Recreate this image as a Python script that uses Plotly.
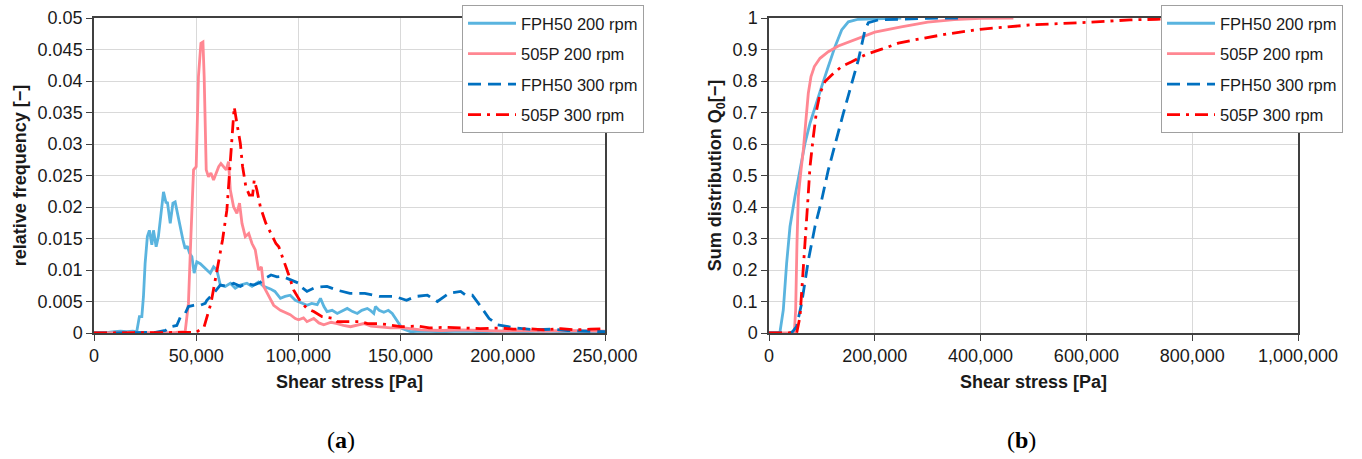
import plotly.graph_objects as go

# ---------------- data: panel (a) relative frequency ----------------
fph200_x = [0, 5000, 10000, 13000, 16000, 19000, 20900, 22200, 23400, 24200, 25000, 26100, 27100, 28300,
            29100, 30400, 31500, 32800, 34000, 35300, 35900, 37300, 38600, 39700, 40800, 42200, 43500,
            44600, 45700, 46700, 47900, 49000, 50300, 52000, 54400, 56000, 56900, 58500, 60100, 61800,
            64200, 66700, 69100, 71600, 74800, 77300, 80500, 83000, 86300, 88500, 91200, 93500, 96000,
            98500, 100100, 102000, 104200, 106500, 109200, 110800, 112500, 114000, 116500, 119000, 121500,
            123900, 126500, 128800, 131000, 133700, 135500, 136900, 137700, 139500, 141800, 144000, 145900,
            148400, 150800, 154900, 160000, 170000, 180000, 190000, 200000, 210000, 220000, 230000, 240000, 250000]
fph200_y = [0, 0, 0.0002, 0.0003, 0.0002, 0.0003, 0.0002, 0.0026, 0.0026, 0.0058, 0.011, 0.0153, 0.0163, 0.014,
            0.0163, 0.0137, 0.0153, 0.0195, 0.0224, 0.0206, 0.0208, 0.0174, 0.0206, 0.0208, 0.019, 0.0166, 0.0148,
            0.0134, 0.0138, 0.0127, 0.0121, 0.0095, 0.0113, 0.0110, 0.0103, 0.0098, 0.0095, 0.0105, 0.0100, 0.0076,
            0.0074, 0.0079, 0.0071, 0.0076, 0.0079, 0.0074, 0.0081, 0.0074, 0.0070, 0.0066, 0.0055, 0.0058, 0.0060,
            0.0052, 0.0050, 0.0048, 0.0044, 0.0047, 0.0045, 0.0055, 0.0042, 0.0034, 0.0036, 0.0031, 0.0035,
            0.0039, 0.0034, 0.0031, 0.0036, 0.0039, 0.0035, 0.0031, 0.0042, 0.0036, 0.0033, 0.0036, 0.0031,
            0.0018, 0.0007, 0.0002, 0.0003, 0.0002, 0.0003, 0.0002, 0.0003, 0.0002, 0.0003, 0.0002, 0.0002, 0.0001]

p505_200_x = [0, 10000, 20000, 30000, 40000, 44600, 46200, 47400, 48700, 50000, 51100, 52300, 53300, 53900,
              54900, 56000, 57200, 58500, 59800, 61000, 62100, 63400, 64700, 65800, 66700, 68300, 69900, 71200,
              72400, 74000, 75700, 77300, 78900, 80500, 81900, 83000, 85400, 87900, 91200, 94500, 96000, 98500,
              100100, 102500, 104200, 107500, 110000, 112400, 116000, 119000, 122000, 125500, 129000, 132000,
              135500, 138600, 142000, 145100, 151600, 160000, 170000, 180000, 190000, 200000, 210000, 220000,
              230000, 240000, 250000]
p505_200_y = [0, 0, 0, 0, 0.0001, 0.0002, 0.0047, 0.0153, 0.0259, 0.0264, 0.0407, 0.046, 0.0462, 0.0407,
              0.0259, 0.0248, 0.0254, 0.0243, 0.0254, 0.0264, 0.0269, 0.0264, 0.0259, 0.0272, 0.0227, 0.0200,
              0.0190, 0.0206, 0.0174, 0.0153, 0.0158, 0.0142, 0.0132, 0.0100, 0.0105, 0.0074, 0.0058, 0.0044,
              0.0036, 0.0031, 0.0029, 0.0023, 0.0021, 0.0024, 0.0018, 0.0023, 0.0016, 0.0013, 0.0017, 0.0015,
              0.0012, 0.0010, 0.0013, 0.0015, 0.0011, 0.0010, 0.0009, 0.0008, 0.0008, 0.0005, 0.0004, 0.0005,
              0.0004, 0.0003, 0.0004, 0.0003, 0.0004, 0.0003, 0.0003]

fph300_x = [0, 10000, 20000, 30000, 35000, 37300, 40500, 42200, 44600, 46200, 48700, 50300, 52000, 54400,
            55200, 58500, 61800, 65000, 68300, 71600, 74800, 78100, 81200, 83800, 86600, 89500, 92000, 94500,
            96900, 100200, 101000, 104200, 107500, 110500, 114000, 119000, 125200, 132500, 139900, 147200,
            152900, 157400, 163100, 168000, 173700, 179400, 181900, 185100, 189200, 193300, 197400, 202300,
            206400, 215300, 223500, 231700, 241500, 250000]
fph300_y = [0, 0, 0, 0.0001, 0.0004, 0.0010, 0.0012, 0.0025, 0.0031, 0.0042, 0.0044, 0.0045, 0.0044, 0.0047,
            0.0052, 0.0063, 0.0076, 0.0074, 0.0079, 0.0074, 0.0079, 0.0076, 0.0080, 0.0087, 0.0092, 0.0089,
            0.0090, 0.0087, 0.0084, 0.0079, 0.0074, 0.0066, 0.0071, 0.0073, 0.0074, 0.0068, 0.0063, 0.0063,
            0.0058, 0.0058, 0.0052, 0.0058, 0.0060, 0.0050, 0.0063, 0.0066, 0.0060, 0.0060, 0.0042, 0.0023,
            0.0013, 0.0010, 0.0008, 0.0005, 0.0006, 0.0004, 0.0003, 0.0002]

p505_300_x = [0, 10000, 20000, 30000, 40000, 50000, 53900, 57200, 60500, 62900, 65000, 66700, 67800, 68600,
              69900, 71600, 72700, 74300, 76000, 77600, 78400, 79700, 81400, 84100, 86600, 89000, 90400, 92800,
              95300, 97700, 101000, 104200, 107500, 111600, 117300, 119000, 124000, 130500, 133800, 138700,
              144400, 150100, 158200, 164000, 171200, 179400, 189000, 199000, 205000, 212100, 220000, 228400,
              236000, 243000, 250000]
p505_300_y = [0, 0, 0, 0, 0, 0.0001, 0.0010, 0.0047, 0.0105, 0.0148, 0.0195, 0.0275, 0.0333, 0.0359,
              0.0333, 0.0301, 0.0264, 0.0232, 0.0219, 0.0219, 0.0243, 0.0227, 0.0200, 0.0174, 0.0158, 0.0142,
              0.0137, 0.0116, 0.0092, 0.0068, 0.0050, 0.0039, 0.0034, 0.0026, 0.0023, 0.0018, 0.0018, 0.0018,
              0.0015, 0.0015, 0.0013, 0.0010, 0.0011, 0.0008, 0.0009, 0.0008, 0.0007, 0.0008, 0.0006, 0.0007,
              0.0005, 0.0007, 0.0005, 0.0006, 0.0007]

# ---------------- data: panel (b) sum distribution ----------------
cfph200_x = [0, 15000, 20800, 27000, 33300, 39700, 49100, 58600, 68000, 77500, 87000, 99500, 112100, 124800,
             137400, 150000, 168900, 200000, 250000]
cfph200_y = [0, 0, 0.004, 0.073, 0.221, 0.338, 0.433, 0.517, 0.602, 0.666, 0.719, 0.782, 0.846, 0.909,
             0.962, 0.988, 0.996, 0.998, 1.0]

cp505_200_x = [0, 39700, 47900, 50400, 52900, 55400, 60500, 64900, 69300, 74300, 79400, 85700, 96400, 112100,
               131000, 162500, 200000, 250000, 300000, 350000, 400000, 462000]
cp505_200_y = [0, 0, 0.004, 0.073, 0.285, 0.433, 0.517, 0.581, 0.666, 0.761, 0.814, 0.846, 0.872, 0.893,
               0.911, 0.932, 0.955, 0.972, 0.987, 0.995, 0.999, 1.0]

cfph300_x = [0, 40000, 45000, 52000, 61700, 74300, 86900, 99500, 112000, 124800, 140500, 156000, 168900,
             181500, 187800, 206700, 250000, 300000, 360000]
cfph300_y = [0, 0, 0.005, 0.02, 0.094, 0.23, 0.338, 0.422, 0.517, 0.602, 0.697, 0.79, 0.867, 0.962, 0.985,
             0.994, 0.997, 0.999, 1.0]

cp505_300_x = [0, 52300, 58600, 63000, 68000, 73100, 77500, 83800, 90100, 96400, 105900, 118500, 137400,
               156300, 181500, 213000, 244500, 272800, 335900, 398900, 493400, 588000, 682600, 733000, 800000]
cp505_300_y = [0, 0, 0.052, 0.147, 0.285, 0.412, 0.528, 0.623, 0.708, 0.761, 0.798, 0.819, 0.846, 0.861,
               0.883, 0.901, 0.92, 0.93, 0.949, 0.964, 0.978, 0.985, 0.994, 0.996, 1.0]

series_names = ["FPH50 200 rpm", "505P 200 rpm", "FPH50 300 rpm", "505P 300 rpm"]

freq_ticks = [0, 0.005, 0.01, 0.015, 0.02, 0.025, 0.03, 0.035, 0.04, 0.045, 0.05]
freq_ticktext = ["0", "0.005", "0.01", "0.015", "0.02", "0.025", "0.03", "0.035", "0.04", "0.045", "0.05"]
sum_ticks = [0, 0.1, 0.2, 0.3, 0.4, 0.5, 0.6, 0.7, 0.8, 0.9, 1.0]
sum_ticktext = ["0", "0.1", "0.2", "0.3", "0.4", "0.5", "0.6", "0.7", "0.8", "0.9", "1"]
xa_ticks = [0, 50000, 100000, 150000, 200000, 250000]
xb_ticks = [0, 200000, 400000, 600000, 800000, 1000000]

# ---------------- styling ----------------
W, H = 1362, 459
FONT = "Liberation Sans"
colors = ["#5AB4DF", "#FF8792", "#0070C0", "#FF0000"]
dashes = ["solid", "solid", "13px,7px", "13px,6px,3px,6px"]
LW = 2.8

fig = go.Figure()

left_data = [(fph200_x, fph200_y), (p505_200_x, p505_200_y), (fph300_x, fph300_y), (p505_300_x, p505_300_y)]
right_data = [(cfph200_x, cfph200_y), (cp505_200_x, cp505_200_y), (cfph300_x, cfph300_y), (cp505_300_x, cp505_300_y)]

for i, (xs, ys) in enumerate(left_data):
    fig.add_trace(go.Scatter(x=xs, y=ys, mode="lines", name=series_names[i], legendgroup="a%d" % i,
                             line=dict(color=colors[i], width=LW, dash=dashes[i]),
                             xaxis="x", yaxis="y", legend="legend"))
for i, (xs, ys) in enumerate(right_data):
    fig.add_trace(go.Scatter(x=xs, y=ys, mode="lines", name=series_names[i], legendgroup="b%d" % i,
                             line=dict(color=colors[i], width=LW, dash=dashes[i]),
                             xaxis="x2", yaxis="y2", legend="legend2"))

grid = "#D9D9D9"
tickfont = dict(family=FONT, size=18, color="#1a1a1a")
titlefont = dict(family=FONT, size=18, color="#1a1a1a", weight="bold")

def xaxis(dom, rng, vals, anchor):
    return dict(domain=dom, range=rng, tickvals=vals, tickformat=",d", showgrid=True, gridcolor=grid,
                gridwidth=1, zeroline=False, showline=True, linecolor="#404040", linewidth=1.5,
                mirror=True, ticks="outside", ticklen=6, tickcolor="#404040", tickfont=tickfont,
                anchor=anchor, title=dict(text="Shear stress [Pa]", font=titlefont, standoff=10))

def yaxis(dom, rng, vals, text, title, anchor):
    return dict(domain=dom, range=rng, tickvals=vals, ticktext=text, showgrid=True, gridcolor=grid,
                gridwidth=1, zeroline=False, showline=True, linecolor="#404040", linewidth=1.5,
                mirror=True, ticks="outside", ticklen=6, tickcolor="#404040", tickfont=tickfont,
                anchor=anchor, title=dict(text=title, font=titlefont, standoff=6))

ydom = [1 - 333 / H, 1 - 18 / H]
legend_common = dict(xanchor="left", yanchor="top", bgcolor="white", bordercolor="#A0A0A0", borderwidth=1,
                     font=dict(family=FONT, size=16.5, color="#1a1a1a"), itemwidth=48, tracegroupgap=6,
                     traceorder="grouped")

fig.update_layout(
    width=W, height=H, margin=dict(l=0, r=0, t=0, b=0, autoexpand=False),
    paper_bgcolor="white", plot_bgcolor="white",
    font=dict(family=FONT, color="#1a1a1a"),
    xaxis=xaxis([94 / W, 605 / W], [0, 250000], xa_ticks, "y"),
    yaxis=yaxis(ydom, [0, 0.05], freq_ticks, freq_ticktext, "relative frequency [−]", "x"),
    xaxis2=xaxis([769 / W, 1298 / W], [0, 1000000], xb_ticks, "y2"),
    yaxis2=yaxis(ydom, [0, 1.0], sum_ticks, sum_ticktext, "Sum distribution Q<sub>0</sub>[−]", "x2"),
    legend=dict(x=462 / W, y=1 - 5 / H, **legend_common),
    legend2=dict(x=1161 / W, y=1 - 5 / H, **legend_common),
    showlegend=True,
    annotations=[
        dict(text="(<b>a</b>)", x=341 / W, y=1 - 440 / H, xref="paper", yref="paper", showarrow=False,
             font=dict(family="Liberation Serif", size=24, color="black"), xanchor="center", yanchor="middle"),
        dict(text="(<b>b</b>)", x=1021 / W, y=1 - 440 / H, xref="paper", yref="paper", showarrow=False,
             font=dict(family="Liberation Serif", size=24, color="black"), xanchor="center", yanchor="middle"),
    ],
)

fig.write_html("out.html")
